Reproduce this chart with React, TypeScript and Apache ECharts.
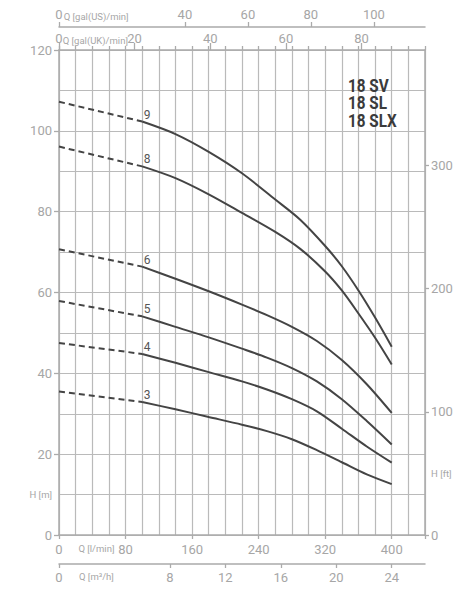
import React, { useEffect, useRef } from 'react';
import * as echarts from 'echarts';

// unit conversions (everything plotted in l/min and m)
const LPM_PER_USGAL = 3.785;
const LPM_PER_UKGAL = 4.546;
const LPM_PER_M3H = 16.667;
const M_PER_FT = 0.3048;
const Q_MAX = 440;
const H_MAX = 120;

// tick labels of every axis, and where the unit name sits on it
const lpmTicks = [0, 80, 160, 240, 320, 400];
const m3hTicks = [0, 8, 12, 16, 20, 24];
const usTicks = [0, 40, 60, 80, 100];
const ukTicks = [0, 20, 40, 60, 80];
const mTicks = [0, 20, 40, 60, 80, 100, 120];
const ftTicks = [0, 100, 200, 300];
const unitAt = { lpm: 45, m3h: 2.7, us: 11.8, uk: 9.6, m: 10, ft: 50 };

const models = ['18 SV', '18 SL', '18 SLX'];

// stages and their curves [Q l/min, H m]
const stages = ['9', '8', '6', '5', '4', '3'];
const shutoff = [107.2, 96.1, 70.7, 57.9, 47.5, 35.5];
const curve9 = [[100, 102.3], [140, 99.2], [180, 94.8], [220, 89.5], [260, 83.0], [290, 78.0], [320, 71.5], [340, 66.5], [360, 60.5], [380, 53.8], [400, 46.6]];
const curve8 = [[100, 91.2], [140, 88.3], [180, 84.3], [220, 79.7], [260, 75.0], [290, 70.8], [320, 65.2], [340, 60.5], [360, 54.8], [380, 48.8], [400, 42.2]];
const curve6 = [[100, 66.4], [140, 63.4], [180, 60.3], [220, 57.0], [250, 54.4], [280, 51.5], [310, 48.0], [340, 43.3], [370, 37.3], [400, 30.2]];
const curve5 = [[100, 54.1], [140, 51.5], [180, 48.9], [220, 46.1], [250, 43.9], [280, 41.3], [310, 38.0], [340, 33.6], [370, 28.2], [400, 22.4]];
const curve4 = [[100, 44.8], [140, 42.6], [180, 40.3], [220, 38.0], [250, 36.0], [280, 33.6], [310, 30.6], [340, 26.3], [370, 21.9], [400, 17.9]];
const curve3 = [[100, 32.9], [140, 31.1], [180, 29.2], [220, 27.3], [250, 25.7], [280, 23.7], [310, 21.0], [340, 18.0], [370, 15.0], [400, 12.6]];
const curves = [curve9, curve8, curve6, curve5, curve4, curve3];

const FONT = 'Roboto, "Liberation Sans", sans-serif';
const AXIS_COLOR = '#ababab';
const GRID_COLOR = '#bababa';
const LABEL_COLOR = '#a6a6a6';
const CURVE_COLOR = '#444';

const near = (a: number, b: number) => Math.abs(a - b) < 1e-6;

const labelFmt = (ticks: number[], unitPos: number, unit: string) => ({
  customValues: [...ticks, unitPos],
  formatter: (v: number) => (near(v, unitPos) ? `{u|${unit}}` : String(Math.round(v))),
  color: LABEL_COLOR,
  fontFamily: FONT,
  fontSize: 13,
  rich: { u: { fontFamily: FONT, fontSize: 9.5, color: LABEL_COLOR } },
});

const axisLine = { show: true, onZero: false, lineStyle: { color: AXIS_COLOR, width: 1.5 } };
const tickStyle = { color: AXIS_COLOR, width: 1.3 };
const gridLine = { show: true, lineStyle: { color: GRID_COLOR, width: 1.2 } };

// tick-only axis laid over a frame side
const tickAxis = (position: string, max: number, interval: number, length: number) => ({
  type: 'value',
  position,
  min: 0,
  max,
  interval,
  axisLine: { show: false, onZero: false },
  axisTick: { show: true, length, lineStyle: tickStyle },
  axisLabel: { show: false },
  splitLine: { show: false },
});

const PumpCurves: React.FC = () => {
  const chartRef = useRef<HTMLDivElement>(null);

  useEffect(() => {
    if (!chartRef.current) return;
    document.body.style.margin = '0';
    const chart = echarts.init(chartRef.current, undefined, { renderer: 'svg' });

    const series: any[] = [];
    stages.forEach((name, i) => {
      const pts = curves[i];
      series.push({
        name: name + '-low',
        type: 'line',
        data: [[0, shutoff[i]], pts[0]],
        symbol: 'none',
        lineStyle: { color: CURVE_COLOR, width: 2, type: [6, 4] },
        z: 3,
      });
      series.push({
        name,
        type: 'line',
        smooth: 0.3,
        symbol: 'circle',
        symbolSize: 0,
        showSymbol: true,
        itemStyle: { color: CURVE_COLOR },
        lineStyle: { color: CURVE_COLOR, width: 2 },
        data: pts.map((p, j) =>
          j === 0
            ? {
                value: p,
                label: {
                  show: true,
                  position: 'inside',
                  offset: [5, -7],
                  formatter: name,
                  color: '#555',
                  fontFamily: FONT,
                  fontSize: 12,
                },
              }
            : p,
        ),
        z: 3,
      });
    });

    const option: any = {
      animation: false,
      grid: { left: 59, right: 46, top: 50, bottom: 58 },
      xAxis: [
        {
          // l/min, bottom
          type: 'value',
          position: 'bottom',
          min: 0,
          max: Q_MAX,
          interval: 20,
          axisLine,
          axisTick: { show: false },
          axisLabel: { ...labelFmt(lpmTicks, unitAt.lpm, 'Q [l/min]'), margin: 8 },
          splitLine: gridLine,
        },
        {
          // m3/h, bottom second line
          type: 'value',
          position: 'bottom',
          offset: 29,
          min: 0,
          max: Q_MAX / LPM_PER_M3H,
          axisLine,
          axisTick: { customValues: m3hTicks, length: 4, lineStyle: tickStyle },
          axisLabel: { ...labelFmt(m3hTicks, unitAt.m3h, 'Q [m³/h]'), margin: 7 },
          splitLine: { show: false },
        },
        {
          // gal(UK)/min, top
          type: 'value',
          position: 'top',
          min: 0,
          max: Q_MAX / LPM_PER_UKGAL,
          axisLine,
          axisTick: { customValues: ukTicks, length: 7, lineStyle: tickStyle },
          axisLabel: { ...labelFmt(ukTicks, unitAt.uk, 'Q [gal(UK)/min]'), margin: 5 },
          splitLine: { show: false },
        },
        {
          // gal(US)/min, top second line
          type: 'value',
          position: 'top',
          offset: 23,
          min: 0,
          max: Q_MAX / LPM_PER_USGAL,
          axisLine,
          axisTick: { customValues: usTicks, length: 5, lineStyle: tickStyle },
          axisLabel: { ...labelFmt(usTicks, unitAt.us, 'Q [gal(US)/min]'), margin: 6 },
          splitLine: { show: false },
        },
        tickAxis('top', Q_MAX, 20, 4),
        tickAxis('bottom', Q_MAX, 80, 4),
      ],
      yAxis: [
        {
          type: 'value',
          position: 'left',
          min: 0,
          max: H_MAX,
          interval: 10,
          axisLine,
          axisTick: { show: false },
          axisLabel: { ...labelFmt(mTicks, unitAt.m, 'H [m]'), margin: 7 },
          splitLine: gridLine,
        },
        {
          type: 'value',
          position: 'right',
          min: 0,
          max: H_MAX / M_PER_FT,
          axisLine,
          axisTick: { show: true, customValues: ftTicks, length: 4, lineStyle: tickStyle },
          axisLabel: { ...labelFmt(ftTicks, unitAt.ft, 'H [ft]'), margin: 6 },
          splitLine: { show: false },
        },
        tickAxis('left', H_MAX, 20, 5),
      ],
      graphic: models.map((m, i) => ({
        type: 'text',
        x: 348,
        y: 76 + i * 17.5,
        scaleX: 0.9,
        scaleY: 1.08,
        z: 10,
        style: {
          text: m,
          fill: '#3b3b3b',
          font: `bold 17px ${FONT}`,
        },
      })),
      series,
    };

    chart.setOption(option);
    const handleResize = () => chart.resize();
    window.addEventListener('resize', handleResize);
    return () => {
      window.removeEventListener('resize', handleResize);
      chart.dispose();
    };
  }, []);

  return <div ref={chartRef} style={{ width: '471px', height: '593px' }} />;
};

export default function App() {
  return <PumpCurves />;
}
